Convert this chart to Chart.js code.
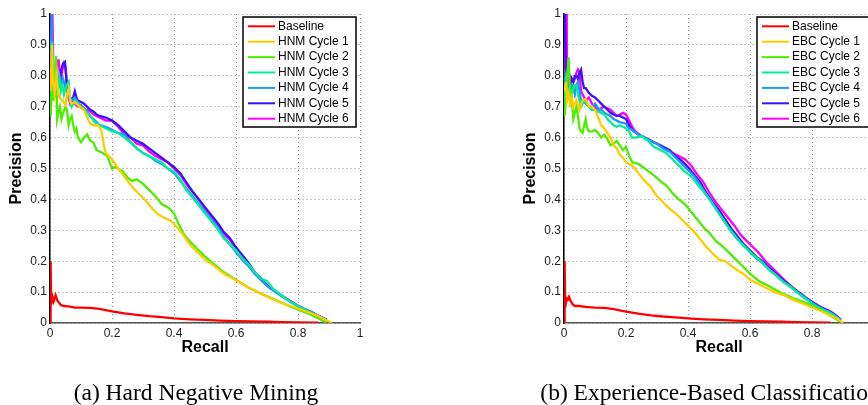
<!DOCTYPE html>
<html><head><meta charset="utf-8">
<script src="https://cdn.jsdelivr.net/npm/chart.js@4/dist/chart.umd.min.js"></script>
<style>
html,body{margin:0;padding:0;width:868px;height:405px;overflow:hidden;background:#fff;}
.wrap{position:absolute;top:0;width:434px;height:405px;}
.cap{position:absolute;top:379px;line-height:27px;font-family:"Liberation Serif","Times New Roman",serif;font-size:23.5px;white-space:nowrap;transform:translateX(-50%);color:#000;}
</style></head><body>
<div class="wrap" style="left:0"><canvas id="c1" width="434" height="405"></canvas></div>
<div class="wrap" style="left:514px"><canvas id="c2" width="434" height="405"></canvas></div>
<div class="cap" style="left:196px">(a) Hard Negative Mining</div>
<div class="cap" style="left:710px">(b) Experience-Based Classification</div>
<script>
// ---- tick / label data ----
const xTickStep = 0.2;
const yTickStep = 0.1;
const hnmLabels = ['Baseline','HNM Cycle 1','HNM Cycle 2','HNM Cycle 3','HNM Cycle 4','HNM Cycle 5','HNM Cycle 6'];
const ebcLabels = ['Baseline','EBC Cycle 1','EBC Cycle 2','EBC Cycle 3','EBC Cycle 4','EBC Cycle 5','EBC Cycle 6'];
const seriesColors = ['#ff0000','#ffcc00','#4cee00','#00ee99','#1e96ff','#3a10ff','#ff00ff'];

// ---- (a) Hard Negative Mining: [recall, precision] ----
const hnmBaseline = [[0,0],[0.002,0.2],[0.004,0.06],[0.008,0.085],[0.012,0.07],[0.018,0.09],[0.024,0.072],[0.03,0.065],[0.035,0.058],[0.045,0.055],[0.06,0.054],[0.08,0.05],[0.1,0.05],[0.13,0.049],[0.16,0.046],[0.2,0.038],[0.24,0.031],[0.28,0.026],[0.32,0.022],[0.36,0.019],[0.4,0.015],[0.45,0.012],[0.5,0.01],[0.55,0.008],[0.6,0.006],[0.65,0.005],[0.7,0.004],[0.75,0.003],[0.8,0.002],[0.865,0.001]];
const hnmCycle1 = [[0.002,0.75],[0.006,0.9],[0.01,0.78],[0.015,0.74],[0.02,0.8],[0.025,0.76],[0.03,0.73],[0.04,0.72],[0.05,0.705],[0.055,0.74],[0.06,0.76],[0.065,0.72],[0.07,0.71],[0.08,0.715],[0.09,0.705],[0.1,0.695],[0.11,0.69],[0.12,0.665],[0.13,0.645],[0.14,0.64],[0.155,0.64],[0.165,0.625],[0.17,0.6],[0.175,0.57],[0.18,0.55],[0.19,0.54],[0.2,0.53],[0.21,0.515],[0.22,0.5],[0.235,0.48],[0.25,0.46],[0.27,0.435],[0.29,0.415],[0.31,0.395],[0.33,0.37],[0.35,0.35],[0.37,0.34],[0.39,0.33],[0.41,0.31],[0.43,0.285],[0.45,0.255],[0.48,0.225],[0.5,0.205],[0.53,0.185],[0.56,0.16],[0.6,0.138],[0.64,0.115],[0.68,0.095],[0.72,0.076],[0.76,0.06],[0.8,0.047],[0.83,0.035],[0.86,0.025],[0.89,0.01],[0.91,0.0]];
const hnmCycle2 = [[0.002,0.67],[0.006,0.75],[0.01,0.72],[0.015,0.8],[0.02,0.865],[0.023,0.66],[0.027,0.68],[0.032,0.7],[0.037,0.66],[0.042,0.68],[0.05,0.7],[0.055,0.69],[0.06,0.64],[0.065,0.66],[0.07,0.67],[0.075,0.64],[0.08,0.62],[0.085,0.63],[0.09,0.6],[0.1,0.585],[0.11,0.6],[0.12,0.61],[0.13,0.59],[0.14,0.585],[0.15,0.56],[0.16,0.555],[0.17,0.55],[0.185,0.54],[0.2,0.5],[0.21,0.505],[0.22,0.5],[0.235,0.49],[0.25,0.47],[0.265,0.46],[0.28,0.465],[0.3,0.45],[0.32,0.43],[0.34,0.41],[0.36,0.385],[0.38,0.375],[0.4,0.355],[0.415,0.32],[0.43,0.29],[0.45,0.265],[0.47,0.245],[0.5,0.215],[0.53,0.19],[0.56,0.165],[0.6,0.14],[0.64,0.115],[0.68,0.095],[0.72,0.078],[0.76,0.06],[0.8,0.043],[0.84,0.028],[0.87,0.013],[0.89,0.002]];
const hnmCycle3 = [[0.001,0.67],[0.004,0.75],[0.007,0.91],[0.01,0.82],[0.013,0.75],[0.018,0.78],[0.025,0.76],[0.03,0.79],[0.035,0.75],[0.04,0.77],[0.045,0.74],[0.05,0.76],[0.06,0.78],[0.065,0.72],[0.07,0.7],[0.08,0.72],[0.09,0.71],[0.1,0.7],[0.11,0.69],[0.12,0.68],[0.13,0.67],[0.14,0.655],[0.15,0.645],[0.16,0.64],[0.18,0.63],[0.2,0.62],[0.22,0.615],[0.24,0.6],[0.26,0.585],[0.28,0.565],[0.3,0.55],[0.32,0.54],[0.34,0.53],[0.36,0.52],[0.38,0.5],[0.4,0.49],[0.42,0.465],[0.44,0.43],[0.46,0.405],[0.48,0.38],[0.5,0.355],[0.52,0.33],[0.54,0.305],[0.56,0.275],[0.58,0.255],[0.6,0.235],[0.62,0.21],[0.64,0.19],[0.66,0.165],[0.68,0.145],[0.7,0.135],[0.72,0.11],[0.74,0.095],[0.76,0.08],[0.78,0.065],[0.8,0.055],[0.82,0.045],[0.84,0.035],[0.86,0.025],[0.88,0.015],[0.89,0.01]];
const hnmCycle4 = [[0.001,0.75],[0.005,1.0],[0.008,0.8],[0.012,0.76],[0.018,0.8],[0.024,0.77],[0.03,0.8],[0.036,0.77],[0.042,0.79],[0.05,0.76],[0.06,0.74],[0.07,0.72],[0.08,0.73],[0.09,0.715],[0.1,0.7],[0.11,0.695],[0.12,0.685],[0.13,0.67],[0.14,0.66],[0.15,0.65],[0.16,0.64],[0.18,0.635],[0.2,0.625],[0.22,0.615],[0.24,0.61],[0.26,0.585],[0.28,0.565],[0.3,0.55],[0.32,0.54],[0.34,0.525],[0.36,0.515],[0.38,0.5],[0.4,0.485],[0.42,0.46],[0.44,0.435],[0.46,0.41],[0.48,0.385],[0.5,0.36],[0.52,0.335],[0.54,0.31],[0.56,0.28],[0.58,0.255],[0.6,0.23],[0.62,0.205],[0.64,0.185],[0.66,0.16],[0.68,0.14],[0.7,0.12],[0.72,0.105],[0.74,0.092],[0.76,0.078],[0.78,0.066],[0.8,0.055],[0.82,0.045],[0.84,0.035],[0.86,0.026],[0.88,0.016],[0.89,0.01]];
const hnmCycle5 = [[0.001,0.85],[0.003,1.0],[0.006,0.88],[0.01,0.82],[0.013,0.73],[0.018,0.8],[0.024,0.78],[0.03,0.77],[0.036,0.82],[0.042,0.84],[0.048,0.845],[0.052,0.8],[0.057,0.74],[0.065,0.73],[0.072,0.72],[0.08,0.75],[0.085,0.73],[0.09,0.72],[0.1,0.715],[0.11,0.71],[0.12,0.7],[0.13,0.69],[0.14,0.685],[0.15,0.675],[0.16,0.67],[0.18,0.665],[0.2,0.655],[0.22,0.64],[0.24,0.62],[0.26,0.6],[0.28,0.59],[0.3,0.58],[0.32,0.565],[0.34,0.55],[0.36,0.535],[0.38,0.52],[0.4,0.505],[0.42,0.485],[0.44,0.455],[0.46,0.425],[0.48,0.4],[0.5,0.375],[0.52,0.35],[0.54,0.325],[0.56,0.295],[0.58,0.275],[0.6,0.245],[0.62,0.22],[0.64,0.195],[0.66,0.165],[0.68,0.145],[0.7,0.122],[0.72,0.107],[0.74,0.094],[0.76,0.08],[0.78,0.068],[0.8,0.056],[0.82,0.046],[0.84,0.037],[0.86,0.027],[0.88,0.017],[0.893,0.01]];
const hnmCycle6 = [[0.002,0.72],[0.004,1.0],[0.008,1.0],[0.011,0.8],[0.014,0.73],[0.018,0.78],[0.022,0.85],[0.028,0.85],[0.032,0.8],[0.036,0.79],[0.04,0.82],[0.045,0.84],[0.05,0.83],[0.055,0.76],[0.06,0.73],[0.065,0.71],[0.07,0.72],[0.08,0.71],[0.09,0.7],[0.1,0.705],[0.11,0.69],[0.12,0.69],[0.13,0.685],[0.14,0.675],[0.15,0.67],[0.16,0.665],[0.18,0.655],[0.2,0.655],[0.21,0.645],[0.22,0.635],[0.24,0.61],[0.26,0.6],[0.28,0.58],[0.3,0.575],[0.32,0.555],[0.34,0.54],[0.36,0.53],[0.38,0.52],[0.4,0.5],[0.42,0.48],[0.44,0.45],[0.46,0.425],[0.48,0.4],[0.5,0.37],[0.52,0.345],[0.54,0.32],[0.56,0.29],[0.58,0.27],[0.6,0.24],[0.62,0.215],[0.64,0.19],[0.66,0.16],[0.68,0.14],[0.7,0.122],[0.72,0.108],[0.74,0.093],[0.76,0.08],[0.78,0.066],[0.8,0.054],[0.82,0.045],[0.84,0.036],[0.86,0.026],[0.88,0.016],[0.893,0.01]];

// ---- (b) Experience-Based Classification: [recall, precision] ----
const ebcBaseline = [[0,0],[0.002,0.2],[0.004,0.05],[0.008,0.08],[0.012,0.075],[0.016,0.085],[0.022,0.07],[0.028,0.06],[0.035,0.055],[0.05,0.055],[0.07,0.052],[0.1,0.05],[0.13,0.049],[0.16,0.045],[0.2,0.037],[0.24,0.03],[0.28,0.025],[0.32,0.021],[0.36,0.018],[0.4,0.015],[0.45,0.012],[0.5,0.01],[0.55,0.008],[0.6,0.006],[0.65,0.005],[0.7,0.004],[0.75,0.003],[0.8,0.002],[0.86,0.001]];
const ebcCycle1 = [[0.002,0.75],[0.006,0.78],[0.01,0.72],[0.015,0.74],[0.02,0.71],[0.025,0.73],[0.03,0.7],[0.04,0.72],[0.05,0.69],[0.055,0.71],[0.06,0.72],[0.07,0.725],[0.08,0.7],[0.09,0.7],[0.1,0.69],[0.11,0.665],[0.12,0.64],[0.13,0.63],[0.14,0.615],[0.15,0.6],[0.16,0.575],[0.17,0.565],[0.18,0.545],[0.19,0.535],[0.2,0.52],[0.22,0.51],[0.24,0.485],[0.26,0.46],[0.28,0.44],[0.3,0.41],[0.32,0.39],[0.34,0.37],[0.36,0.355],[0.38,0.335],[0.4,0.315],[0.42,0.295],[0.44,0.27],[0.46,0.245],[0.48,0.225],[0.5,0.205],[0.52,0.2],[0.54,0.185],[0.56,0.17],[0.58,0.158],[0.6,0.14],[0.62,0.13],[0.65,0.115],[0.68,0.1],[0.71,0.09],[0.74,0.075],[0.77,0.063],[0.8,0.05],[0.83,0.038],[0.86,0.025],[0.88,0.015],[0.9,0.0]];
const ebcCycle2 = [[0.002,0.67],[0.006,0.72],[0.01,0.8],[0.015,0.86],[0.018,0.78],[0.021,0.7],[0.025,0.73],[0.03,0.66],[0.035,0.68],[0.04,0.7],[0.045,0.67],[0.05,0.63],[0.055,0.62],[0.06,0.615],[0.065,0.64],[0.07,0.66],[0.075,0.63],[0.08,0.62],[0.09,0.62],[0.1,0.625],[0.11,0.615],[0.12,0.6],[0.13,0.61],[0.14,0.595],[0.15,0.575],[0.16,0.58],[0.17,0.59],[0.18,0.575],[0.19,0.56],[0.2,0.57],[0.21,0.54],[0.22,0.52],[0.24,0.515],[0.26,0.5],[0.28,0.485],[0.3,0.47],[0.31,0.46],[0.33,0.445],[0.35,0.42],[0.37,0.4],[0.39,0.385],[0.41,0.36],[0.43,0.335],[0.45,0.31],[0.47,0.29],[0.49,0.265],[0.51,0.25],[0.53,0.23],[0.55,0.21],[0.57,0.19],[0.6,0.16],[0.63,0.135],[0.66,0.12],[0.7,0.098],[0.74,0.08],[0.78,0.065],[0.81,0.052],[0.84,0.035],[0.87,0.018],[0.89,0.005]];
const ebcCycle3 = [[0.001,0.7],[0.004,0.75],[0.008,0.8],[0.012,0.74],[0.018,0.76],[0.025,0.74],[0.03,0.76],[0.035,0.77],[0.04,0.77],[0.045,0.74],[0.05,0.72],[0.055,0.7],[0.06,0.71],[0.07,0.72],[0.08,0.7],[0.09,0.69],[0.1,0.69],[0.11,0.685],[0.12,0.68],[0.13,0.675],[0.14,0.66],[0.15,0.65],[0.16,0.64],[0.17,0.635],[0.18,0.64],[0.19,0.635],[0.2,0.63],[0.21,0.62],[0.22,0.6],[0.23,0.6],[0.25,0.605],[0.27,0.59],[0.29,0.57],[0.31,0.56],[0.33,0.55],[0.35,0.53],[0.37,0.51],[0.39,0.49],[0.41,0.475],[0.43,0.45],[0.45,0.425],[0.47,0.4],[0.49,0.37],[0.51,0.34],[0.53,0.31],[0.55,0.285],[0.57,0.26],[0.59,0.24],[0.61,0.22],[0.63,0.205],[0.65,0.185],[0.67,0.165],[0.69,0.15],[0.71,0.13],[0.73,0.118],[0.75,0.1],[0.77,0.085],[0.79,0.07],[0.81,0.055],[0.83,0.045],[0.85,0.038],[0.87,0.025],[0.89,0.01]];
const ebcCycle4 = [[0.001,0.75],[0.004,0.8],[0.008,0.78],[0.012,0.74],[0.02,0.75],[0.025,0.77],[0.03,0.76],[0.035,0.74],[0.04,0.77],[0.045,0.78],[0.05,0.75],[0.055,0.72],[0.06,0.72],[0.07,0.71],[0.08,0.7],[0.09,0.7],[0.1,0.71],[0.11,0.695],[0.12,0.69],[0.13,0.68],[0.14,0.675],[0.15,0.67],[0.16,0.66],[0.17,0.655],[0.18,0.65],[0.19,0.648],[0.2,0.645],[0.21,0.63],[0.22,0.625],[0.24,0.61],[0.26,0.6],[0.28,0.59],[0.3,0.58],[0.32,0.565],[0.34,0.555],[0.36,0.535],[0.38,0.515],[0.4,0.495],[0.42,0.475],[0.44,0.445],[0.46,0.415],[0.48,0.385],[0.5,0.355],[0.52,0.325],[0.54,0.295],[0.56,0.27],[0.58,0.25],[0.6,0.23],[0.62,0.21],[0.64,0.195],[0.66,0.175],[0.68,0.158],[0.7,0.14],[0.72,0.125],[0.74,0.11],[0.76,0.095],[0.78,0.08],[0.8,0.066],[0.82,0.053],[0.84,0.042],[0.86,0.033],[0.88,0.02],[0.892,0.01]];
const ebcCycle5 = [[0.001,0.9],[0.003,1.0],[0.006,0.8],[0.01,0.74],[0.015,0.76],[0.02,0.77],[0.025,0.79],[0.03,0.78],[0.035,0.8],[0.04,0.8],[0.045,0.79],[0.05,0.81],[0.055,0.82],[0.06,0.78],[0.065,0.76],[0.07,0.76],[0.08,0.745],[0.09,0.735],[0.1,0.73],[0.11,0.72],[0.12,0.71],[0.13,0.7],[0.14,0.69],[0.15,0.68],[0.16,0.675],[0.17,0.67],[0.18,0.67],[0.19,0.665],[0.2,0.66],[0.21,0.64],[0.22,0.625],[0.24,0.61],[0.26,0.6],[0.28,0.59],[0.3,0.58],[0.32,0.57],[0.34,0.56],[0.36,0.54],[0.38,0.525],[0.4,0.505],[0.42,0.48],[0.44,0.455],[0.46,0.42],[0.48,0.39],[0.5,0.365],[0.52,0.335],[0.54,0.305],[0.56,0.28],[0.58,0.255],[0.6,0.235],[0.62,0.215],[0.64,0.2],[0.66,0.18],[0.68,0.162],[0.7,0.145],[0.72,0.128],[0.74,0.112],[0.76,0.097],[0.78,0.082],[0.8,0.068],[0.82,0.056],[0.84,0.045],[0.86,0.036],[0.88,0.022],[0.893,0.01]];
const ebcCycle6 = [[0.002,0.75],[0.004,1.0],[0.007,1.0],[0.009,0.9],[0.012,0.75],[0.016,0.78],[0.02,0.8],[0.025,0.79],[0.03,0.78],[0.035,0.79],[0.04,0.81],[0.045,0.82],[0.05,0.81],[0.055,0.75],[0.06,0.74],[0.07,0.72],[0.08,0.73],[0.09,0.71],[0.1,0.7],[0.11,0.685],[0.12,0.695],[0.13,0.7],[0.14,0.695],[0.15,0.69],[0.16,0.68],[0.17,0.67],[0.18,0.675],[0.19,0.68],[0.2,0.675],[0.21,0.655],[0.22,0.635],[0.23,0.62],[0.25,0.605],[0.27,0.595],[0.29,0.585],[0.31,0.575],[0.33,0.56],[0.35,0.55],[0.37,0.54],[0.39,0.53],[0.41,0.51],[0.43,0.48],[0.45,0.455],[0.47,0.42],[0.49,0.39],[0.51,0.365],[0.53,0.34],[0.55,0.315],[0.57,0.285],[0.59,0.265],[0.61,0.245],[0.63,0.225],[0.65,0.2],[0.67,0.18],[0.69,0.16],[0.71,0.14],[0.73,0.122],[0.75,0.105],[0.77,0.09],[0.79,0.075],[0.81,0.062],[0.83,0.05],[0.85,0.042],[0.87,0.03],[0.893,0.01]];

const SANS = '"Liberation Sans", Arial, Helvetica, sans-serif';
const fmtTick = v => String(Number(v.toFixed(1)));

const boxLegend = {
  id: 'boxLegend',
  afterDatasetsDraw(chart) {
    const ctx = chart.ctx, a = chart.chartArea;
    const x0 = a.left + 193, y0 = a.top + 3, w = 113, h = 110;
    ctx.save();
    ctx.fillStyle = '#fff';
    ctx.fillRect(x0, y0, w, h);
    ctx.lineWidth = 1.5;
    ctx.strokeStyle = '#000';
    ctx.strokeRect(x0, y0, w, h);
    ctx.font = '12px ' + SANS;
    ctx.textBaseline = 'middle';
    ctx.textAlign = 'left';
    chart.data.datasets.forEach((d, i) => {
      const y = y0 + 9.3 + i * 15.4;
      ctx.strokeStyle = d.borderColor;
      ctx.lineWidth = 2;
      ctx.beginPath();
      ctx.moveTo(x0 + 5, y);
      ctx.lineTo(x0 + 32, y);
      ctx.stroke();
      ctx.fillStyle = '#000';
      ctx.fillText(d.label, x0 + 35, y);
    });
    ctx.restore();
  }
};

function makeChart(id, labels, series) {
  return new Chart(document.getElementById(id), {
    type: 'scatter',
    data: {
      datasets: series.map((s, i) => ({
        label: labels[i],
        data: s.map(p => ({x: p[0], y: p[1]})),
        borderColor: seriesColors[i],
        backgroundColor: seriesColors[i],
        showLine: true,
        pointRadius: 0,
        borderWidth: 2.3,
        tension: 0
      }))
    },
    options: {
      responsive: false,
      animation: false,
      devicePixelRatio: 1,
      layout: {padding: {top: 14, right: 74, left: 0, bottom: 0}},
      plugins: {legend: {display: false}, tooltip: {enabled: false}},
      scales: {
        x: {
          type: 'linear', min: 0, max: 1,
          ticks: {stepSize: xTickStep, padding: 3, color: '#222', maxRotation: 0, font: {family: SANS, size: 12}, callback: fmtTick},
          grid: {color: '#8c8c8c', drawTicks: false, lineWidth: 1},
          border: {display: true, color: '#555', width: 1.5, dash: [1, 3]},
          title: {display: true, text: 'Recall', color: '#000', font: {family: SANS, size: 16, weight: 'bold'}, padding: {top: 0, bottom: 47.4}},
          afterFit: s => { s.height = 82; }
        },
        y: {
          type: 'linear', min: 0, max: 1,
          ticks: {stepSize: yTickStep, padding: 3, color: '#222', font: {family: SANS, size: 12}, callback: fmtTick},
          grid: {color: '#8c8c8c', drawTicks: false, lineWidth: 1},
          border: {display: true, color: '#000', width: 1.5, dash: [1, 3]},
          title: {display: true, text: 'Precision', color: '#000', font: {family: SANS, size: 16, weight: 'bold'}, padding: {top: 7.4, bottom: 0}},
          afterFit: s => { s.width = 50; }
        }
      }
    },
    plugins: [boxLegend]
  });
}

makeChart('c1', hnmLabels, [hnmBaseline, hnmCycle1, hnmCycle2, hnmCycle3, hnmCycle4, hnmCycle5, hnmCycle6]);
makeChart('c2', ebcLabels, [ebcBaseline, ebcCycle1, ebcCycle2, ebcCycle3, ebcCycle4, ebcCycle5, ebcCycle6]);
</script>
</body></html>
